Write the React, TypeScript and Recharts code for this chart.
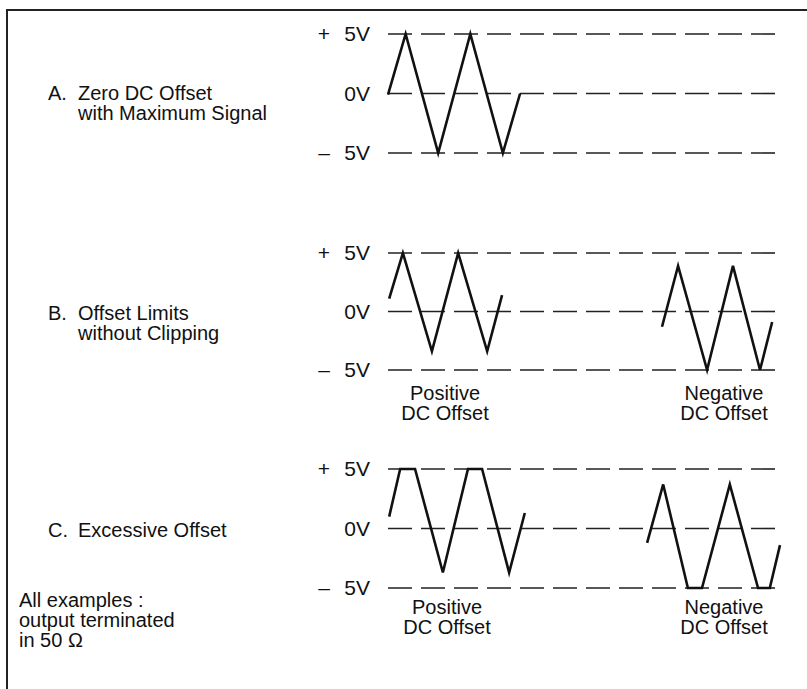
import { LineChart, Line, XAxis, YAxis, CartesianGrid } from "recharts";

// time axis is arbitrary (0..100 across the dashed lines), values in volts
const voltTicks = [-5, 0, 5];
const voltSigns = ["–", "", "+"];
const voltLabels = ["5V", "0V", "5V"];

const zeroOffset = [
  { t: 0, v: -0.1 },
  { t: 4.5, v: 5 },
  { t: 12.8, v: -5 },
  { t: 21, v: 5 },
  { t: 29.3, v: -5 },
  { t: 33.7, v: 0 },
];

const limitsPositive = [
  { t: 0.3, v: 1.1 },
  { t: 3.8, v: 5 },
  { t: 11.2, v: -3.4 },
  { t: 17.9, v: 5 },
  { t: 25.3, v: -3.4 },
  { t: 29.1, v: 1.4 },
];

const limitsNegative = [
  { t: 69.9, v: -1.3 },
  { t: 74, v: 3.9 },
  { t: 81.4, v: -5 },
  { t: 88, v: 3.9 },
  { t: 94.9, v: -5 },
  { t: 98, v: -0.9 },
];

const excessPositive = [
  { t: 0.3, v: 1.0 },
  { t: 3.1, v: 5 },
  { t: 6.9, v: 5 },
  { t: 14, v: -3.7 },
  { t: 20.4, v: 5 },
  { t: 24, v: 5 },
  { t: 30.9, v: -3.7 },
  { t: 34.9, v: 1.3 },
];

const excessNegative = [
  { t: 66.1, v: -1.2 },
  { t: 70.2, v: 3.7 },
  { t: 76.5, v: -5 },
  { t: 80.1, v: -5 },
  { t: 87.2, v: 3.7 },
  { t: 94.4, v: -5 },
  { t: 97.4, v: -5 },
  { t: 100, v: -1.4 },
];

const FONT = '"Liberation Sans", Arial, Helvetica, sans-serif';

function VoltTick(props: any) {
  const { x, y, payload } = props;
  const i = voltTicks.indexOf(payload.value);
  return (
    <g fontFamily={FONT} fontSize={21} fill="#111">
      <text x={x} y={y} dy={7} textAnchor="end">
        {voltLabels[i]}
      </text>
      {voltSigns[i] && (
        <text x={x - 46} y={y} dy={7} textAnchor="middle">
          {voltSigns[i]}
        </text>
      )}
    </g>
  );
}

function Panel({
  top,
  height,
  plusY,
  minusY,
  series,
}: {
  top: number;
  height: number;
  plusY: number;
  minusY: number;
  series: { t: number; v: number }[][];
}) {
  return (
    <div style={{ position: "absolute", left: 0, top }}>
      <LineChart
        width={807}
        height={height}
        margin={{ top: plusY - top, bottom: height - (minusY - top), left: 308, right: 27 }}
      >
        <CartesianGrid
          vertical={false}
          stroke="#222"
          strokeWidth={1.6}
          strokeDasharray="24 9"
        />
        <XAxis dataKey="t" type="number" domain={[0, 100]} hide />
        <YAxis
          type="number"
          domain={[-5, 5]}
          ticks={voltTicks}
          width={80}
          axisLine={false}
          tickLine={false}
          tickMargin={12}
          tick={<VoltTick />}
        />
        {series.map((d, i) => (
          <Line
            key={i}
            data={d}
            dataKey="v"
            stroke="#111"
            strokeWidth={2.6}
            dot={false}
            isAnimationActive={false}
            strokeLinejoin="miter"
          />
        ))}
      </LineChart>
    </div>
  );
}

const txt = (left: number, top: number, s: string, extra: any = {}) => (
  <div
    style={{
      position: "absolute",
      left,
      top,
      fontFamily: FONT,
      fontSize: 20,
      lineHeight: "20px",
      color: "#111",
      whiteSpace: "pre",
      ...extra,
    }}
  >
    {s}
  </div>
);

export default function App() {
  return (
    <div
      style={{
        position: "absolute",
        left: 0,
        top: 0,
        width: 807,
        height: 689,
        background: "#fff",
        overflow: "hidden",
      }}
    >
      {/* frame: top and left edges only */}
      <div style={{ position: "absolute", left: 6, top: 9, width: 801, height: 2, background: "#222" }} />
      <div style={{ position: "absolute", left: 6, top: 9, width: 2, height: 680, background: "#222" }} />

      <Panel top={0} height={190} plusY={34} minusY={153} series={[zeroOffset]} />
      <Panel top={200} height={200} plusY={253} minusY={370} series={[limitsPositive, limitsNegative]} />
      <Panel top={420} height={200} plusY={469} minusY={588} series={[excessPositive, excessNegative]} />

      {txt(48, 83, "A.")}
      {txt(78, 83, "Zero DC Offset\nwith Maximum Signal")}
      {txt(48, 303, "B.")}
      {txt(78, 303, "Offset Limits\nwithout Clipping")}
      {txt(48, 520, "C.")}
      {txt(78, 520, "Excessive Offset")}
      {txt(19, 590, "All examples :\noutput terminated\nin 50 Ω")}

      {txt(385, 383, "Positive\nDC Offset", { width: 120, textAlign: "center" })}
      {txt(664, 383, "Negative\nDC Offset", { width: 120, textAlign: "center" })}
      {txt(387, 597, "Positive\nDC Offset", { width: 120, textAlign: "center" })}
      {txt(664, 597, "Negative\nDC Offset", { width: 120, textAlign: "center" })}
    </div>
  );
}
